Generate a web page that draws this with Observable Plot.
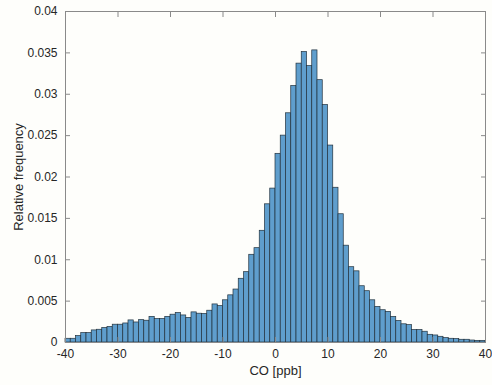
<!DOCTYPE html>
<html>
<head>
<meta charset="utf-8">
<script src="https://cdn.jsdelivr.net/npm/d3@7"></script>
<script src="https://cdn.jsdelivr.net/npm/@observablehq/plot@0.6"></script>
<style>
  html, body { margin: 0; padding: 0; background: #fefefb; }
  #chart svg { display: block; }
</style>
</head>
<body>
<div id="chart"></div>
<script>
// Histogram of CO [ppb], bin width 1, from -40 to 40
const binStart = -40;
const binWidth = 1;
const relFreq = [
  0.00045, 0.00045, 0.00078, 0.00114, 0.00114, 0.00146, 0.00154, 0.00175, 0.00187, 0.00215,
  0.00215, 0.00230, 0.00267, 0.00242, 0.00270, 0.00263, 0.00310, 0.00284, 0.00284, 0.00310,
  0.00336, 0.00356, 0.00327, 0.00296, 0.00364, 0.00348, 0.00345, 0.00384, 0.00460, 0.00440,
  0.00510, 0.00570, 0.00640, 0.00770, 0.00850, 0.01060, 0.01140, 0.01350, 0.01670, 0.01860,
  0.02280, 0.02500, 0.02770, 0.03100, 0.03370, 0.03510, 0.03340, 0.03530, 0.03170, 0.02870,
  0.02380, 0.01870, 0.01550, 0.01170, 0.00910, 0.00860, 0.00680, 0.00620, 0.00510, 0.00430,
  0.00390, 0.00370, 0.00310, 0.00260, 0.00220, 0.00210, 0.00150, 0.00150, 0.00130, 0.00093,
  0.00085, 0.00069, 0.00053, 0.00045, 0.00042, 0.00033, 0.00033, 0.00024, 0.00020, 0.00020
];
const xTicks = [-40, -30, -20, -10, 0, 10, 20, 30, 40];
const yTicks = [0, 0.005, 0.01, 0.015, 0.02, 0.025, 0.03, 0.035, 0.04];
const xLabel = "CO [ppb]";
const yLabel = "Relative frequency";

const bins = relFreq.map((f, i) => ({
  x1: binStart + i * binWidth,
  x2: binStart + (i + 1) * binWidth,
  f
}));

const fmtY = d => String(+d.toFixed(3));
const textColor = "#262626";
const axisColor = "#8a8a8a";

const chart = Plot.plot({
  width: 492,
  height: 385,
  marginLeft: 65,
  marginRight: 7,
  marginTop: 11,
  marginBottom: 43,
  style: { fontFamily: "'Liberation Sans', Arial, sans-serif", fontSize: "12px", color: textColor, background: "#fefefb" },
  x: { domain: [-40, 40] },
  y: { domain: [0, 0.04] },
  marks: [
    Plot.rect(bins, {
      x1: "x1", x2: "x2", y1: 0, y2: "f",
      fill: "#5f9ecd", stroke: "#22313c", strokeWidth: 0.7
    }),
    Plot.frame({ stroke: axisColor, strokeWidth: 1 }),
    Plot.axisX(xTicks, {
      anchor: "bottom", tickSize: -5, tickPadding: 12, stroke: axisColor,
      fill: textColor, fontSize: 12, tickFormat: d => String(d), label: null
    }),
    Plot.axisX({
      anchor: "bottom", ticks: [], tickSize: 0, fill: textColor, fontSize: 13,
      label: xLabel, labelAnchor: "center", labelArrow: "none", labelOffset: 32
    }),
    Plot.axisX(xTicks, { anchor: "top", tickSize: -5, stroke: axisColor, tickFormat: () => "", label: null }),
    Plot.axisY(yTicks, {
      anchor: "left", tickSize: -5, tickPadding: 13, stroke: axisColor,
      fill: textColor, fontSize: 12, tickFormat: fmtY, label: null
    }),
    Plot.axisY({
      anchor: "left", ticks: [], tickSize: 0, fill: textColor, fontSize: 13,
      label: yLabel, labelAnchor: "center", labelArrow: "none", labelOffset: 52
    }),
    Plot.axisY(yTicks, { anchor: "right", tickSize: -5, stroke: axisColor, tickFormat: () => "", label: null })
  ]
});
document.getElementById("chart").append(chart);
</script>
</body>
</html>
